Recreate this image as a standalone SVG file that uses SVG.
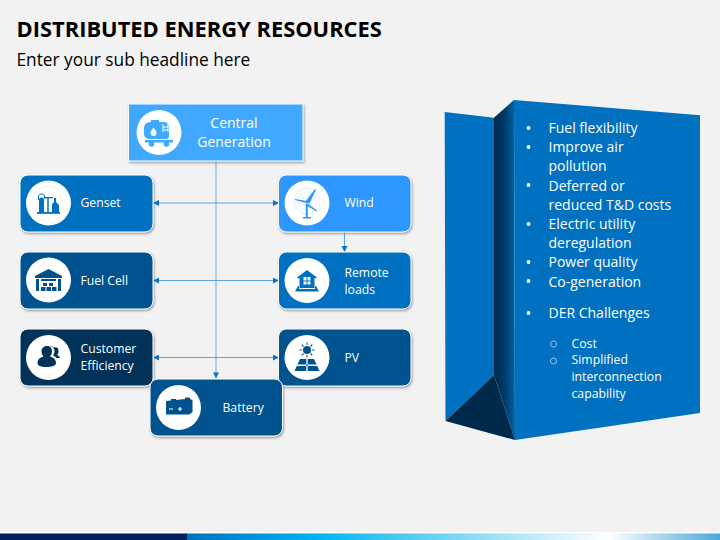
<svg xmlns="http://www.w3.org/2000/svg" width="720" height="540" viewBox="0 0 720 540">
<style>
text{font-family:"Open Sans","Liberation Sans",sans-serif}
.t{fill:#fff;font-size:12.200px}
.c{fill:#fff;font-size:14px;text-anchor:middle}
.p{fill:#fff;font-size:14px}
.s{fill:#fff;font-size:12.250px}
.box{stroke:#fff;stroke-width:1;filter:url(#sh)}
.ci{fill:#fff}
.conn{fill:none;stroke:#5fa2dc;stroke-width:1}
.pale{stroke:#8dbce6;stroke-width:1.300}
</style>
<defs>
<filter id="sh" x="-10%" y="-10%" width="120%" height="125%"><feDropShadow dx="1" dy="1.500" stdDeviation="1" flood-color="#555" flood-opacity=".55"/></filter>
<marker id="ar" viewBox="0 0 6 6" refX="5.600" refY="3" markerWidth="6" markerHeight="6" markerUnits="userSpaceOnUse" orient="auto-start-reverse"><path d="M0 0L6 3L0 6Z" fill="#0f6fc0"/></marker>
<linearGradient id="fold" x1="0" x2="1" y1="0" y2="0"><stop offset="0" stop-color="#00284a"/><stop offset=".5" stop-color="#003a68"/><stop offset="1" stop-color="#0062a8"/></linearGradient>
<linearGradient id="foot" x1="0" x2="1" y1="0" y2="0"><stop offset="0" stop-color="#0070c0"/><stop offset=".235" stop-color="#00b0f0"/><stop offset=".79" stop-color="#fff"/><stop offset="1" stop-color="#49a8dd"/></linearGradient>
</defs>
<rect width="720" height="540" fill="#f2f2f2"/>
<text x="16.500" y="37" font-size="21.900" font-weight="700" fill="#000">DISTRIBUTED ENERGY RESOURCES</text>
<text x="16.500" y="66" font-size="17.300" fill="#000">Enter your sub headline here</text>

<g id="connectors">
<path class="conn pale" d="M216 161V378" marker-end="url(#ar)"/>
<path class="conn" d="M153.500 203H278.500" marker-start="url(#ar)" marker-end="url(#ar)"/>
<path class="conn" d="M153.500 280.500H278.500" marker-start="url(#ar)" marker-end="url(#ar)"/>
<path class="conn" d="M153.500 357.500H278.500" marker-start="url(#ar)" marker-end="url(#ar)"/>
<path class="conn" d="M344.500 232V251.500" marker-end="url(#ar)"/>
</g>

<g id="central">
<rect class="box" x="128.500" y="104" width="174.500" height="57" fill="#3fa9ff"/>
<circle class="ci" cx="159" cy="132.500" r="22.500"/>
<g fill="#3fa9ff"><path d="M151 120h8v2h5a5 5 0 0 1 5 5v9a3 3 0 0 1-3 3h-17a5 5 0 0 1-5-5v-6a6 6 0 0 1 6-6h1z"/><rect x="145" y="140" width="28" height="2.500"/><circle cx="151.500" cy="144" r="2.800"/><circle cx="166.500" cy="144" r="2.800"/></g>
<path d="M163 124v8M168 124v8M163 127h5M163 130h5" stroke="#fff" stroke-width="1" fill="none"/>
<path d="M153.500 127.500c2 3 3 4 3 5.500a3 3 0 0 1-6 0c0-1.500 1-2.500 3-5.500z" fill="#fff"/>
<text class="c" x="234" y="128">Central</text><text class="c" x="234" y="147">Generation</text>
</g>

<g id="genset">
<rect class="box" x="20" y="175" width="133" height="57" rx="8" fill="#0070c0"/>
<circle class="ci" cx="48.500" cy="203" r="22.500"/>
<g fill="#0070c0"><rect x="37" y="212" width="23" height="1.800"/><path d="M39 212v-12a2.500 2.500 0 0 1 5 0v12z"/><path d="M52 212v-8l2-2v-4h2v4l3 3v7z"/><rect x="45" y="197" width="8" height="1.300"/></g>
<path d="M38.500 200v-4a3.200 3.200 0 0 1 6 0v3" stroke="#0070c0" fill="none"/>
<path d="M48 212v-15" stroke="#0070c0" stroke-width="1.500"/>
<text class="t" x="80.500" y="207">Genset</text>
</g>

<g id="fuel-cell">
<rect class="box" x="20" y="252" width="133" height="57" rx="8" fill="#00528f"/>
<circle class="ci" cx="48.500" cy="280" r="22.500"/>
<path fill="#00528f" d="M35 276l13.500-7 13.500 7v2h-27zM36 279h3v12h-3zM58 279h3v12h-3zM41 279h15v2h-15zM43 283h4v3h-4zM49 283h4v3h-4zM41 287h4.500v4H41zM46.500 287h4.500v4h-4.500zM52 287h4.500v4H52z"/>
<text class="t" x="80.500" y="284.500">Fuel Cell</text>
</g>

<g id="customer">
<rect class="box" x="20" y="329" width="133" height="57" rx="8" fill="#00325a"/>
<circle class="ci" cx="48.500" cy="357.500" r="22.500"/>
<path fill="#00325a" d="M49 346a5 5 0 0 1 5 1.500c3-1 4.500 1 4.500 3.500 0 2-.5 3-1.500 4 1.500.5 2.500 1.500 3 3h-3.500c-1-1.500-2-2-3.500-2.500 1-1.500 1.500-3 1.500-4.500 0-2-1-3.500-2.500-4.500z"/>
<path fill="#00325a" d="M47 346c3.500 0 5 2.500 5 5.500 0 2-1 4-2 5 3.500 1 6 3 6 6.500 0 3-5 4-10 4s-8.500-1.200-8.500-4c0-3.500 2.500-5.500 6-6.500-1-1-2-3-2-5 0-3 2-5.500 5.500-5.500z"/>
<text class="t" x="80.500" y="353">Customer</text><text class="t" x="80.500" y="370">Efficiency</text>
</g>

<g id="wind">
<rect class="box" x="278.500" y="175" width="132.500" height="57" rx="8" fill="#2e96ff"/>
<circle class="ci" cx="307" cy="203" r="22.500"/>
<g fill="none" stroke="#cfe6fb" stroke-width=".7"><circle cx="307" cy="201" r="5"/><circle cx="307" cy="201" r="9"/><circle cx="307" cy="201" r="13"/></g>
<g fill="#2e96ff"><path d="M305 202l10-13 1 .5-6.500 14z"/><path d="M306 203l-11-3v-1l11.500 2z"/><path d="M307 203l10 7.500-.7 1-11-7z"/><rect x="305.800" y="204" width="2" height="14"/><rect x="303" y="217" width="8" height="1.500"/></g>
<text class="t" x="344.500" y="207">Wind</text>
</g>

<g id="remote-loads">
<rect class="box" x="278.500" y="252" width="132.500" height="57" rx="8" fill="#0070c0"/>
<circle class="ci" cx="307" cy="280.500" r="22.500"/>
<path fill="#0070c0" d="M307 270l10 7.500-1 1-1.500-1V288h-15v-10.500l-1.500 1-1-1zM303.500 277v3.500h3v-3.500zm4 0v3.500h3v-3.500zm-4 4.500v3h3v-3zm4 0v3h3v-3z" fill-rule="evenodd"/>
<path fill="#0070c0" d="M298 286h1v3h16v-3h1l3 5.500h-24z"/>
<text class="t" x="344.500" y="276.500">Remote</text><text class="t" x="344.500" y="293.500">loads</text>
</g>

<g id="pv">
<rect class="box" x="278.500" y="329" width="132.500" height="57" rx="8" fill="#00528f"/>
<circle class="ci" cx="307" cy="357.500" r="22.500"/>
<circle cx="307" cy="350" r="4" fill="#00528f"/>
<path d="M307 342.500v2.500M307 355v2.500M299.500 350h2.500M312 350h2.500M301.700 344.700l1.800 1.800M310.500 353.500l1.800 1.800M312.300 344.700l-1.800 1.800M303.500 353.500l-1.800 1.800" stroke="#00528f" stroke-width="1.100"/>
<path fill="#00528f" d="M300 359h14l5.500 12h-25zM306.300 359v12h1.400v-12zM297 364.500v1.400h20v-1.400z" fill-rule="evenodd"/>
<text class="t" x="344.500" y="361.500">PV</text>
</g>

<g id="battery">
<rect class="box" x="150" y="379" width="132.500" height="57" rx="8" fill="#00528f"/>
<circle class="ci" cx="178.500" cy="407.500" r="22.500"/>
<path fill="#00528f" d="M166 401l5-.5v-1.500h5v1l9-1v-1.500h5v1.500l2.500 1v12l-3 2.500h-23.500z"/>
<path d="M169 409h4M178 409h4M180 407v4" stroke="#fff" stroke-width="1.200"/>
<text class="t" x="222.500" y="412">Battery</text>
</g>

<g id="panel">
<polygon points="444.700,112 494,117.700 494,375 445.500,421" fill="#0070c0"/>
<polygon points="494,117.700 514,100 515,440 494,375" fill="url(#fold)"/>
<polygon points="445.500,421 494,375 515,440" fill="#002a4c"/>
<polygon points="514,100 700,115.300 700,413 515,440" fill="#0070c0"/>
<text class="p" x="548.500" y="133">Fuel flexibility</text>
<text class="p" x="548.500" y="152.200">Improve air</text>
<text class="p" x="548.500" y="171.400">pollution</text>
<text class="p" x="548.500" y="190.600">Deferred or</text>
<text class="p" x="548.500" y="209.800">reduced T&amp;D costs</text>
<text class="p" x="548.500" y="229">Electric utility</text>
<text class="p" x="548.500" y="248.200">deregulation</text>
<text class="p" x="548.500" y="267.400">Power quality</text>
<text class="p" x="548.500" y="286.600">Co-generation</text>
<text class="p" x="548.500" y="318">DER Challenges</text>
<g fill="#fff"><circle cx="528.500" cy="128" r="1.900"/><circle cx="528.500" cy="147" r="1.900"/><circle cx="528.500" cy="185" r="1.900"/><circle cx="528.500" cy="224" r="1.900"/><circle cx="528.500" cy="262" r="1.900"/><circle cx="528.500" cy="281" r="1.900"/><circle cx="528.500" cy="313" r="1.900"/></g>
<g fill="none" stroke="#d5e6f5" stroke-width=".7"><circle cx="553.500" cy="344" r="3"/><circle cx="553.500" cy="361" r="3"/></g>
<text class="s" x="571.500" y="347.500">Cost</text>
<text class="s" x="571.500" y="364.300">Simplified</text>
<text class="s" x="571.500" y="381">interconnection</text>
<text class="s" x="571.500" y="397.800">capability</text>
</g>

<g id="footer">
<rect y="532" width="720" height="1" fill="#fff"/>
<rect y="533.500" width="187" height="6.500" fill="#002060"/>
<rect x="187" y="533.500" width="533" height="6.500" fill="url(#foot)"/>
</g>
</svg>
